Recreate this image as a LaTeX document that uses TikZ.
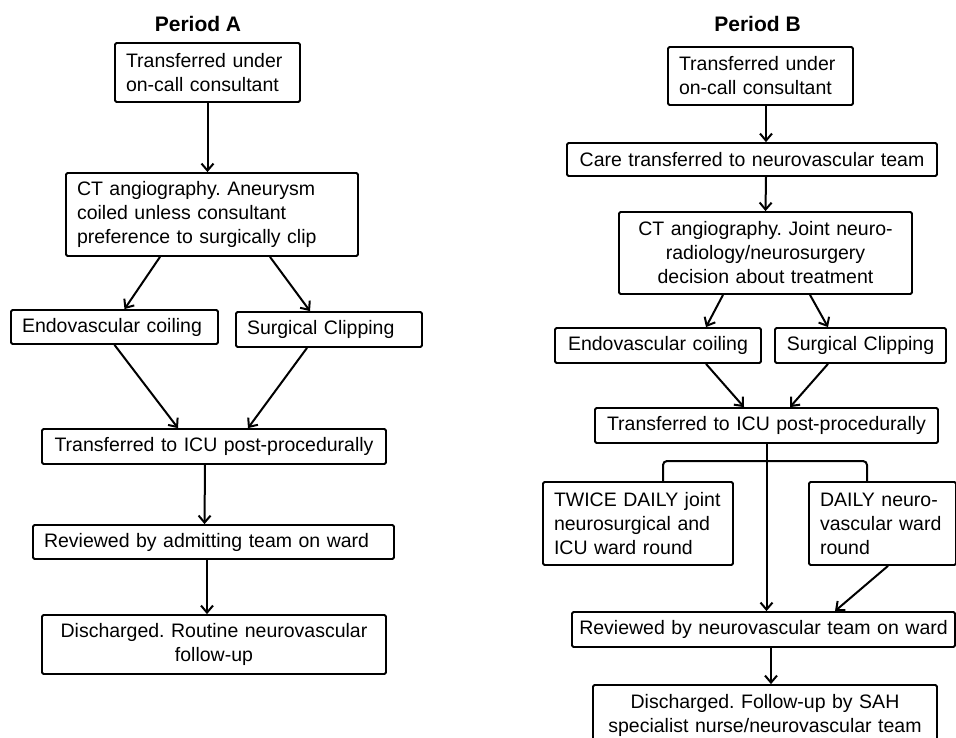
\documentclass[tikz,border=0pt]{standalone}
\usepackage{fontspec}
\setmainfont{Liberation Sans}
\usetikzlibrary{positioning,arrows.meta}
\frenchspacing

\begin{document}
\begin{tikzpicture}
    [x=1pt, y=-1pt, font=\fontsize{19.5}{24}\selectfont,
    every node/.style={draw, line width=1.8pt, rounded corners=1.5pt,
    inner xsep=6pt, inner ysep=0pt, align=center},
    leftbox/.style={inner xsep=11pt, align=left},
    title/.style={draw=none, font=\fontsize{21}{24}\selectfont\bfseries},
    flow/.style={line width=2pt, -{Straight Barb[length=7pt, width=12pt]}},
    bracket/.style={line width=2pt, rounded corners=4pt}]
    \useasboundingbox (0,0) rectangle (956,737);

    % Period A
    \node[title] (titleA) at (198,24) {Period A};
    \node[leftbox, text width=163pt, minimum height=59pt] (transferA) at (207.5,72.5)
        {Transferred under\\on-call consultant};
    \node[leftbox, text width=270pt, minimum height=83pt] (ctA) at (212,214.5)
        {CT angiography. Aneurysm\\coiled unless consultant\\preference to surgically clip};
    \node[leftbox, text width=185pt, minimum height=34pt] (coilA) at (114.5,327)
        {Endovascular coiling};
    \node[leftbox, text width=164pt, minimum height=35pt] (clipA) at (329,329.5)
        {Surgical Clipping};
    \node[text width=332pt, minimum height=35pt] (icuA) at (214,446.5)
        {Transferred to ICU post-procedurally};
    \node[leftbox, text width=339pt, minimum height=34pt] (reviewA) at (213.5,542)
        {Reviewed by admitting team on ward};
    \node[text width=332pt, minimum height=59pt] (dischargeA) at (214,644.5)
        {Discharged. Routine neurovascular\\follow-up};

    \draw[flow] (transferA.south) -- (transferA.south |- ctA.north);
    \draw[flow] ([xshift=-52pt]ctA.south) -- ([xshift=10pt]coilA.north);
    \draw[flow] ([xshift=58pt]ctA.south) -- ([xshift=-19pt]clipA.north);
    \draw[flow] (coilA.south) -- ([xshift=-36pt]icuA.north);
    \draw[flow] ([xshift=-22pt]clipA.south) -- ([xshift=34pt]icuA.north);
    \draw[flow] ([xshift=-9pt]icuA.south) -- ([xshift=-9pt]reviewA.north);
    \draw[flow] ([xshift=-6.5pt]reviewA.south) -- ([xshift=-7pt]dischargeA.north);

    % Period B
    \node[title] (titleB) at (757.5,24) {Period B};
    \node[leftbox, text width=163pt, minimum height=58pt] (transferB) at (760.5,76)
        {Transferred under\\on-call consultant};
    \node[text width=358pt, minimum height=33pt] (careB) at (752,159.5)
        {Care transferred to neurovascular team};
    \node[text width=281pt, minimum height=82pt] (ctB) at (765.5,253)
        {CT angiography. Joint neuro-\\radiology/neurosurgery\\decision about treatment};
    \node[text width=194pt, minimum height=35pt] (coilB) at (658,345.5)
        {Endovascular coiling};
    \node[text width=159pt, minimum height=35pt] (clipB) at (860.5,345.5)
        {Surgical Clipping};
    \node[text width=331pt, minimum height=35pt] (icuB) at (766.5,425.5)
        {Transferred to ICU post-procedurally};
    \node[leftbox, text width=168pt, minimum height=83pt] (twiceB) at (638,523.5)
        {TWICE DAILY joint\\neurosurgical and\\ICU ward round};
    \node[leftbox, text width=125pt, minimum height=83pt] (dailyB) at (882.5,523.5)
        {DAILY neuro-\\vascular ward\\round};
    \node[text width=371pt, minimum height=35pt] (reviewB) at (763.5,629.5)
        {Reviewed by neurovascular team on ward};
    \node[text width=332pt, minimum height=60pt] (dischargeB) at (765,715)
        {Discharged. Follow-up by SAH\\specialist nurse/neurovascular team};
    \coordinate (splitB) at (766.5,461);

    \draw[flow] ([xshift=5.5pt]transferB.south) -- ([xshift=14pt]careB.north);
    \draw[flow] ([xshift=14pt]careB.south) -- (ctB.north);
    \draw[flow] ([xshift=-42.5pt]ctB.south) -- ([xshift=48pt]coilB.north);
    \draw[flow] ([xshift=44.5pt]ctB.south) -- ([xshift=-32.5pt]clipB.north);
    \draw[flow] ([xshift=48pt]coilB.south) -- ([xshift=-22.5pt]icuB.north);
    \draw[flow] ([xshift=-32.5pt]clipB.south) -- ([xshift=23.5pt]icuB.north);
    \draw[flow] (icuB.south) -- ([xshift=3pt]reviewB.north);
    \draw[bracket] ([xshift=25pt]twiceB.north) |- (splitB) -| ([xshift=-15.5pt]dailyB.north);
    \draw[flow] ([xshift=5.5pt]dailyB.south) -- ([xshift=71.5pt]reviewB.north);
    \draw[flow] ([xshift=7.5pt]reviewB.south) -- ([xshift=6pt]dischargeB.north);
\end{tikzpicture}
\end{document}
